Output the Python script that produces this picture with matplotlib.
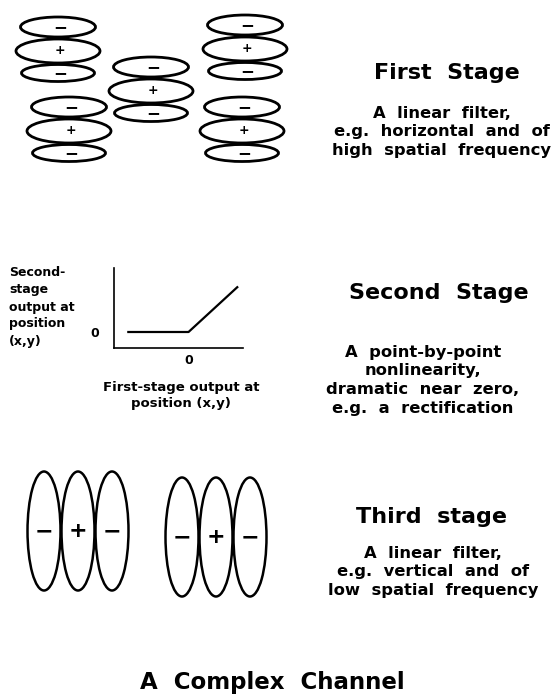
import matplotlib
matplotlib.use("Agg")
import matplotlib.pyplot as plt
from matplotlib.patches import Ellipse

plt.rcParams['font.family'] = ['DejaVu Sans']

# stage headings and their descriptions
stage_titles = ["First  Stage", "Second  Stage", "Third  stage"]
stage_notes = [
    ["A  linear  filter,", "e.g.  horizontal  and  of", "high  spatial  frequency"],
    ["A  point-by-point", "nonlinearity,", "dramatic  near  zero,", "e.g.  a  rectification"],
    ["A  linear  filter,", "e.g.  vertical  and  of", "low  spatial  frequency"],
]
figure_title = "A  Complex  Channel"

# first stage: horizontal receptive fields, signs of the three lobes
lobe_signs = ["\u2212", "+", "\u2212"]

# second stage: rectifying nonlinearity
first_stage_output = [-1.05, 0.0, 0.85]
second_stage_output = [0.0, 0.0, 0.70]
y_label_lines = ["Second-", "stage", "output at", "position", "(x,y)"]
x_label_lines = ["First-stage output at", "position (x,y)"]

# geometry in pixel units of the 559x696 canvas
group_centers = [(58, 51), (69, 131), (151, 91), (245, 49), (242, 131)]
lobe_offsets = [-24, 0, 22]
lobe_sizes = [(75, 20), (84, 24), (73, 17)]

vertical_groups = [(44, 531), (182, 537)]
vertical_step = 34
vertical_size = (33, 119)

fig = plt.figure(figsize=(5.59, 6.96), dpi=100)
ax = fig.add_axes([0, 0, 1, 1])
ax.set_xlim(0, 559)
ax.set_ylim(696, 0)
ax.axis("off")

# first stage filters
for cx, cy in group_centers:
    for off, (w, h), sign in zip(lobe_offsets, lobe_sizes, lobe_signs):
        ax.add_patch(Ellipse((cx, cy + off), w, h, fill=False, lw=2.0, ec="black"))
        fs = 12 if sign != "+" else 9
        ax.text(cx + 2, cy + off, sign, ha="center", va="center", fontsize=fs,
                fontweight="bold")

# third stage filters
for gx, gy in vertical_groups:
    for i, sign in enumerate(lobe_signs):
        x = gx + i * vertical_step
        ax.add_patch(Ellipse((x, gy), vertical_size[0], vertical_size[1],
                             fill=False, lw=1.8, ec="black"))
        ax.text(x, gy, sign, ha="center", va="center", fontsize=16,
                fontweight="bold")

# second stage graph as an inset axes
W, H = 559, 696
left, right, top, bottom = 114, 243, 268, 348
iax = fig.add_axes([left / W, 1 - bottom / H, (right - left) / W, (bottom - top) / H])
iax.plot(first_stage_output, second_stage_output, color="black", lw=1.6)
iax.set_xlim(-1.3, 0.95)
iax.set_ylim(-0.25, 1.0)
iax.spines["top"].set_visible(False)
iax.spines["right"].set_visible(False)
iax.spines["left"].set_linewidth(1.2)
iax.spines["bottom"].set_linewidth(1.2)
iax.set_xticks([0])
iax.set_yticks([0])
iax.set_xticklabels(["0"], fontsize=9, fontweight="bold")
iax.set_yticklabels(["0"], fontsize=9, fontweight="bold")
iax.tick_params(length=0, pad=4)
iax.tick_params(axis="y", pad=11)
iax.patch.set_alpha(0)

for i, line in enumerate(y_label_lines):
    ax.text(9, 273 + i * 17, line, ha="left", va="center", fontsize=9,
            fontweight="bold")
for i, line in enumerate(x_label_lines):
    ax.text(181, 387 + i * 17, line, ha="center", va="center", fontsize=9.5,
            fontweight="bold")

# right-hand text
title_pos = [(447, 73), (439, 293), (431, 517)]
note_x = [442, 423, 433]
note_y0 = [113, 352, 553]
note_step = [18.5, 19, 18.5]
for (tx, ty), title, notes, nx, ny, step in zip(title_pos, stage_titles, stage_notes,
                                                note_x, note_y0, note_step):
    ax.text(tx, ty, title, ha="center", va="center", fontsize=16,
            fontweight="bold")
    for j, line in enumerate(notes):
        ax.text(nx, ny + j * step, line, ha="center", va="center", fontsize=11.8,
                fontweight="bold")

ax.text(272, 682, figure_title, ha="center", va="center", fontsize=16.5,
        fontweight="bold")

fig.savefig("out.png", dpi=100)
